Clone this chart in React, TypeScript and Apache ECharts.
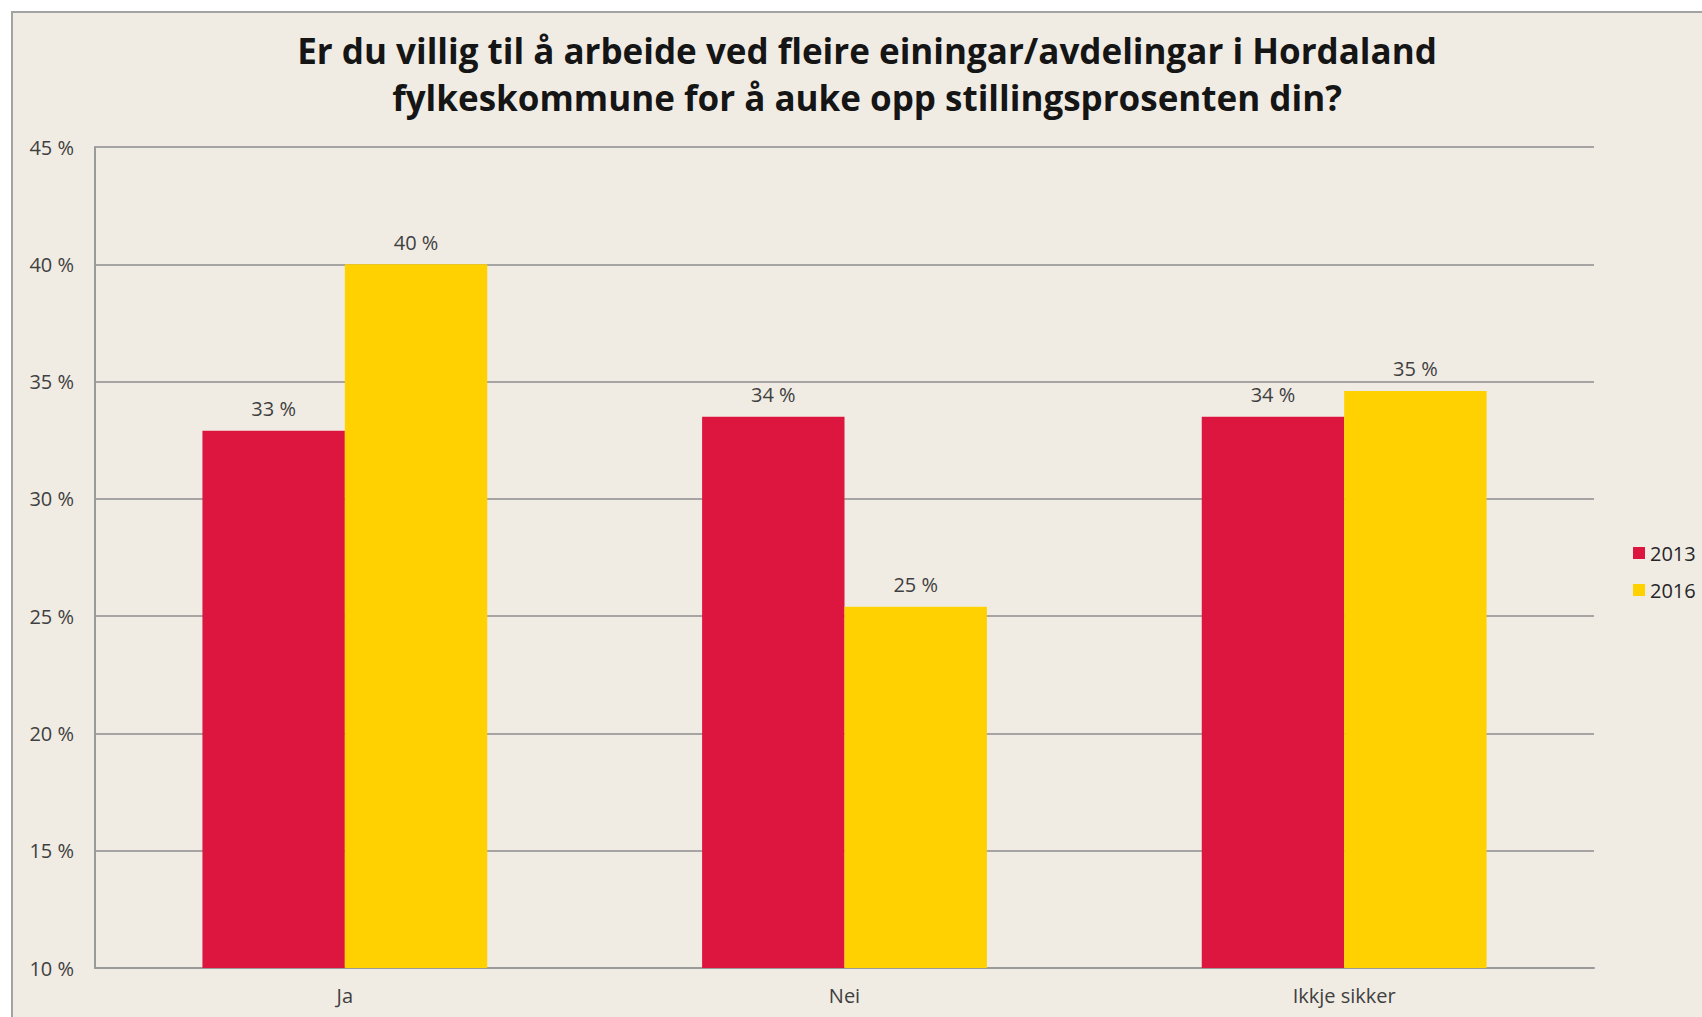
import React, { useEffect, useRef } from "react";
import * as echarts from "echarts";

const categories = ["Ja", "Nei", "Ikkje sikker"];
const seriesNames = ["2013", "2016"];
const values2013 = [32.9, 33.5, 33.5];
const values2016 = [40.0, 25.4, 34.6];
const titleText =
  "Er du villig til å arbeide ved fleire einingar/avdelingar i Hordaland\nfylkeskommune for å auke opp stillingsprosenten din?";

const FONT = "'Open Sans', Lato, sans-serif";

export default function App() {
  const ref = useRef<HTMLDivElement>(null);

  useEffect(() => {
    if (!ref.current) return;
    const chart = echarts.init(ref.current, undefined, { renderer: "svg" });
    const label = {
      show: true,
      position: "top",
      distance: 12,
      fontSize: 20,
      fontFamily: FONT,
      color: "#404040",
      formatter: (p: any) => Math.round(p.value) + " %",
    };
    chart.setOption({
      animation: false,
      backgroundColor: "transparent",
      textStyle: { fontFamily: FONT },
      title: {
        text: titleText,
        left: 862,
        top: 22,
        textAlign: "center",
        textStyle: {
          fontSize: 35,
          fontWeight: "bold",
          fontFamily: FONT,
          color: "#151515",
          lineHeight: 47,
        },
      },
      legend: {
        orient: "vertical",
        left: 1628,
        top: 538,
        itemWidth: 12,
        itemHeight: 12,
        itemGap: 17,
        icon: "rect",
        textStyle: { fontSize: 20, color: "#262626", fontFamily: FONT },
        data: seriesNames,
      },
      grid: { left: 95, top: 147, right: 108, bottom: 49, containLabel: false },
      xAxis: {
        type: "category",
        data: categories,
        axisLine: { lineStyle: { color: "#9a9a9a", width: 2 } },
        axisTick: { show: false },
        axisLabel: { fontSize: 20, color: "#404040", margin: 17, fontFamily: FONT },
      },
      yAxis: {
        type: "value",
        min: 10,
        max: 45,
        interval: 5,
        axisLine: { show: true, lineStyle: { color: "#9a9a9a", width: 2 } },
        axisTick: { show: false },
        axisLabel: {
          fontSize: 20,
          color: "#404040",
          margin: 21,
          fontFamily: FONT,
          formatter: "{value} %",
        },
        splitLine: { lineStyle: { color: "#8e8e8e", width: 1.5 } },
      },
      series: [
        {
          name: seriesNames[0],
          type: "bar",
          data: values2013,
          barGap: "0%",
          barCategoryGap: "43%",
          itemStyle: { color: "#DD1640" },
          label,
        },
        {
          name: seriesNames[1],
          type: "bar",
          data: values2016,
          barGap: "0%",
          barCategoryGap: "43%",
          itemStyle: { color: "#FFD100" },
          label,
        },
      ],
    });
    return () => chart.dispose();
  }, []);

  return (
    <div
      style={{
        position: "absolute",
        left: 0,
        top: 0,
        width: 1702,
        height: 1017,
        background: "#ffffff",
        overflow: "hidden",
      }}
    >
      <div
        style={{
          position: "absolute",
          left: 11,
          top: 11,
          width: 1720,
          height: 1040,
          background: "#F0ECE4",
          borderLeft: "2px solid #a3a3a3",
          borderTop: "2px solid #a3a3a3",
        }}
      />
      <div
        ref={ref}
        style={{ position: "absolute", left: 0, top: 0, width: 1702, height: 1017 }}
      />
    </div>
  );
}
